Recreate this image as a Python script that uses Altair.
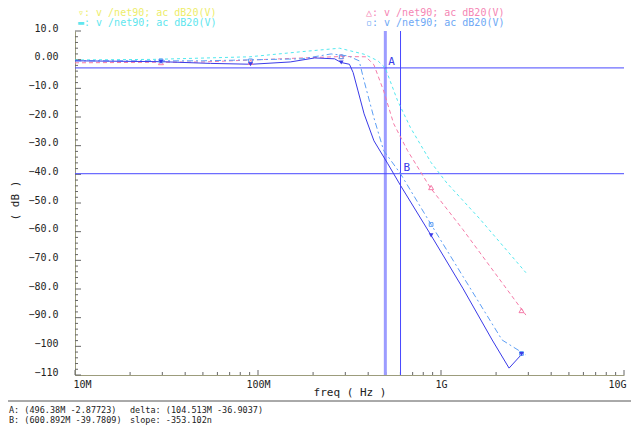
import altair as alt
import pandas as pd

MHZ = 1e6

# ---- trace data (frequency in MHz, magnitude in dB) ----
cyan_f = [10, 27, 90, 174, 279, 380, 452, 496, 579, 681, 883, 1076, 1622, 2911]
cyan_db = [-0.1, 0.1, 1.0, 2.8, 4.0, 1.9, -0.4, -2.9, -14.3, -23.7, -35.9, -43.0, -55.4, -74.3]

pink_f = [10, 50, 174, 285, 389, 430, 486, 551, 656, 873, 1315, 2911]
pink_db = [-1.1, -0.8, 0.6, 1.1, 1.0, -1.8, -10.9, -22.3, -31.7, -44.6, -59.2, -89.1]

lblue_f = [10, 50, 174, 251, 311, 357, 380, 430, 486, 601, 883, 1315, 2158, 2911]
lblue_db = [-0.4, -0.4, 0.3, 2.0, 1.3, -0.4, -7.4, -20.3, -31.7, -39.8, -57.5, -75.5, -97.8, -103.0]

dblue_f = [10, 29.5, 55, 92, 150, 204, 262, 285, 316, 331, 352, 380, 430, 512, 601, 883, 1315, 1905, 2355, 2767]
dblue_db = [-0.4, -0.7, -1.3, -1.6, -0.8, 0.6, 0.3, -1.0, -1.6, -4.5, -10.9, -18.9, -28.3, -36.3, -43.9, -61.3, -79.7, -97.8, -107.6, -102.7]

# ---- trace markers ----
marker_f = [29.5, 91, 285, 883, 2754]
cyan_mk = [0.0, 1.0, 4.0, -35.9, -72.8]
pink_mk = [-1.0, -0.9, 1.1, -44.6, -87.5]
lblue_mk = [-0.4, -0.4, 1.0, -57.5, -102.5]
dblue_mk = [-0.7, -1.6, -1.0, -61.3, -102.7]

# ---- cursors ----
cursor_names = ["A", "B"]
cursor_f = [496.38, 600.892]
cursor_db = [-2.87723, -39.7809]

legend_labels = ["▿: v /net90; ac dB20(V)", "▬: v /net90; ac dB20(V)",
                 "△: v /net90; ac dB20(V)", "▫: v /net90; ac dB20(V)"]
footer_labels = ["A: (496.38M -2.87723)", "B: (600.892M -39.7809)",
                 "delta: (104.513M -36.9037)", "slope: -353.102n"]

y_ticks_major = list(range(-110, 11, 10))
y_ticks_minor = [v for v in range(-110, 11, 2) if v % 10 != 0]
x_ticks_major = [1e7, 1e8, 1e9, 1e10]
x_ticks_minor = [k * 10 ** d for d in (7, 8, 9) for k in range(2, 10)]

W, H = 549, 344
FONT = "DejaVu Sans Mono"

xscale = alt.Scale(type="log", domain=[1e7, 1e10])
yscale = alt.Scale(domain=[-110, 10])

x_enc = alt.X("freq:Q", scale=xscale,
              axis=alt.Axis(values=x_ticks_major, ticks=False, grid=False,
                            labelExpr="datum.value > 5e9 ? '10G' : datum.value > 5e8 ? '1G' : datum.value > 5e7 ? '100M' : '10M'",
                            title="freq ( Hz )", labelFont=FONT, titleFont=FONT,
                            labelFontSize=10, titleFontSize=11, titleFontWeight="normal",
                            labelColor="#222", titleColor="#222", labelPadding=4,
                            titleY=17, titleBaseline="middle",
                            labelFlush=True, labelFlushOffset=2,
                            domainColor="#9c9c7c"))
y_enc = alt.Y("db:Q", scale=yscale,
              axis=alt.Axis(values=y_ticks_major, ticks=False, grid=False,
                            labelExpr="datum.value == 0 ? '0.00' : (abs(datum.value) >= 100 ? format(datum.value, 'd') : format(datum.value, '.1f'))",
                            title="( dB )", labelFont=FONT, titleFont=FONT,
                            labelFontSize=10, titleFontSize=11, titleFontWeight="normal",
                            labelColor="#222", titleColor="#222", labelPadding=17,
                            labelOffset=-3,
                            titleX=-60, titleY=169, titleAlign="center", titleBaseline="middle",
                            domainColor="#9c9c7c"))


def frame(f, db, name):
    return pd.DataFrame({"freq": [v * MHZ for v in f], "db": db, "series": name,
                         "order": list(range(len(f)))})


styles = [
    ("cyan", cyan_f, cyan_db, "#52e8ef", [3, 3]),
    ("pink", pink_f, pink_db, "#f57aa8", [4, 3]),
    ("lblue", lblue_f, lblue_db, "#5d9ff5", [6, 3, 2, 3]),
    ("dblue", dblue_f, dblue_db, "#3a3ae8", None),
]

layers = []

# tick marks (inside the plot)
yt_major = pd.DataFrame({"db": y_ticks_major})
yt_minor = pd.DataFrame({"db": y_ticks_minor})
xt_major = pd.DataFrame({"freq": x_ticks_major})
xt_minor = pd.DataFrame({"freq": x_ticks_minor})
layers.append(alt.Chart(yt_major).mark_rule(color="#666", strokeWidth=1).encode(
    y=y_enc, x=alt.value(0), x2=alt.value(6)))
layers.append(alt.Chart(yt_minor).mark_rule(color="#666", strokeWidth=1).encode(
    y=y_enc, x=alt.value(0), x2=alt.value(3)))
layers.append(alt.Chart(xt_major).mark_rule(color="#666", strokeWidth=1).encode(
    x=x_enc, y=alt.value(H), y2=alt.value(H - 5)))
layers.append(alt.Chart(xt_minor).mark_rule(color="#666", strokeWidth=1).encode(
    x=x_enc, y=alt.value(H), y2=alt.value(H - 3)))

# cursor lines
cur = pd.DataFrame({"freq": [v * MHZ for v in cursor_f], "db": cursor_db, "name": cursor_names})
layers.append(alt.Chart(cur.iloc[[0]]).mark_rule(color="#9c9cff", strokeWidth=3).encode(
    x=x_enc, y=alt.value(0), y2=alt.value(H)))
layers.append(alt.Chart(cur.iloc[[1]]).mark_rule(color="#4848ff", strokeWidth=1).encode(
    x=x_enc, y=alt.value(0), y2=alt.value(H)))
layers.append(alt.Chart(cur).mark_rule(color="#4848ff", strokeWidth=1).encode(
    y=y_enc, x=alt.value(0), x2=alt.value(W)))

# traces
for name, f, db, color, dash in styles:
    kw = dict(color=color, strokeWidth=1, clip=True)
    if dash:
        kw["strokeDash"] = dash
    layers.append(alt.Chart(frame(f, db, name)).mark_line(**kw).encode(
        x=x_enc, y=y_enc, order="order:Q"))

# markers
mk_specs = [
    (cyan_mk, "#52e8ef", "stroke", True, 30),
    (pink_mk, "#f57aa8", "triangle-up", False, 25),
    (lblue_mk, "#5d9ff5", "square", False, 14),
    (dblue_mk, "#3a3ae8", "triangle-down", True, 22),
]
for vals, color, shape, filled, size in mk_specs:
    mdf = pd.DataFrame({"freq": [v * MHZ for v in marker_f], "db": vals})
    layers.append(alt.Chart(mdf).mark_point(shape=shape, filled=filled, color=color,
                                            size=size, strokeWidth=1, opacity=1).encode(
        x=x_enc, y=y_enc))

# cursor labels
layers.append(alt.Chart(cur).mark_text(align="left", baseline="bottom", dx=3, dy=-1,
                                       font=FONT, fontSize=11, color="#3a3ae8").encode(
    x=x_enc, y=y_enc, text="name:N"))

# legend texts (top)
leg_pos = [(3, -23, "#eded6a"), (3, -13, "#5fe6ee"), (291, -23, "#f586b4"), (291, -13, "#6ea8f5")]
for lab, (lx, ly, col) in zip(legend_labels, leg_pos):
    layers.append(alt.Chart(pd.DataFrame({"t": [lab]})).mark_text(
        align="left", baseline="top", font=FONT, fontSize=10, color=col).encode(
        x=alt.value(lx), y=alt.value(ly), text="t:N"))

# separator line and footer texts
layers.append(alt.Chart(pd.DataFrame({"t": [0]})).mark_rule(color="#555", strokeWidth=1).encode(
    x=alt.value(-67), x2=alt.value(W + 7), y=alt.value(370)))
foot_pos = [(-66, 379), (-66, 389), (55, 379), (55, 389)]
for lab, (fx, fy) in zip(footer_labels, foot_pos):
    layers.append(alt.Chart(pd.DataFrame({"t": [lab]})).mark_text(
        align="left", baseline="middle", font=FONT, fontSize=8.5, color="#222").encode(
        x=alt.value(fx), y=alt.value(fy), text="t:N"))

chart = alt.layer(*layers).properties(
    width=W, height=H,
    autosize=alt.AutoSizeParams(type="none"),
    padding={"left": 67, "top": 23, "right": 7, "bottom": 50},
    background="white",
).configure_view(stroke=None)

chart.save("out.html", embed_options={"renderer": "svg", "actions": False})
